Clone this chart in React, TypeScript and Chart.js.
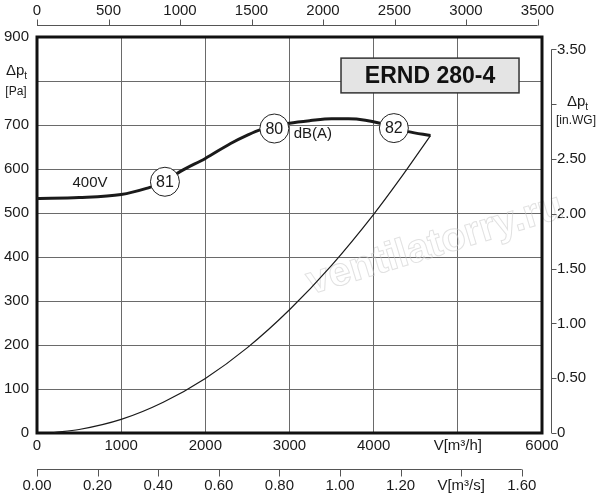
import React, { useEffect, useRef } from "react";
import { Chart, registerables } from "chart.js";

Chart.register(...registerables);

// ---- data ----
const flowTicks = [0, 1000, 2000, 3000, 4000, 5000, 6000];
const flowLabels = ["0", "1000", "2000", "3000", "4000", "V[m³/h]", "6000"];
const cfmTicks = [0, 500, 1000, 1500, 2000, 2500, 3000, 3500];
const cfmLabels = ["0", "500", "1000", "1500", "2000", "2500", "3000", "3500"];
const m3sTicks = [0, 0.2, 0.4, 0.6, 0.8, 1.0, 1.2, 1.4, 1.6];
const m3sLabels = ["0.00", "0.20", "0.40", "0.60", "0.80", "1.00", "1.20", "V[m³/s]", "1.60"];
const paTicks = [0, 100, 200, 300, 400, 500, 600, 700, 800, 900];
const paLabels = ["0", "100", "200", "300", "400", "500", "600", "700", "", "900"];
const inwgTicks = [0, 0.5, 1.0, 1.5, 2.0, 2.5, 3.0, 3.5];
const inwgLabels = ["0", "0.50", "1.00", "1.50", "2.00", "2.50", "", "3.50"];

const fanFlow = [0, 500, 1000, 1300, 1520, 1700, 2000, 2300, 2500, 2650, 2830, 3000, 3250, 3500, 3700, 3900, 4075, 4240, 4410, 4675];
const fanPressure = [533, 535, 542, 556, 571, 594, 624, 658, 677, 689, 697, 704, 710, 714, 714, 711, 704, 694, 685, 676];

const systemFlow = [200, 500, 1000, 1500, 2000, 2500, 3000, 3500, 4000, 4300, 4675];
const systemPressure = [1, 8, 31, 70, 124, 194, 280, 381, 497, 574, 676];

const dbFlow = [1520, 2820, 4240];
const dbPressure = [571, 692, 693];
const dbLabels = ["81", "80", "82"];

const title = "ERND 280-4";
const voltageLabel = "400V";
const dbUnit = "dB(A)";
const watermark = "ventilatorry.ru";

const FLOW_MAX = 6000;
const PA_MAX = 900;
const CFM_MAX = FLOW_MAX / 1.699011;
const M3S_MAX = FLOW_MAX / 3600;
const INWG_MAX = PA_MAX / 249.089;

const FONT = "'Liberation Sans', Arial, sans-serif";
const TXT = "#1a1a1a";
const GRID = "#6a6a6a";

function fixedTicks(values: number[]) {
  return (scale: any) => {
    scale.ticks = values.map((v) => ({ value: v }));
  };
}
function labelFor(values: number[], labels: string[]) {
  return (v: any) => {
    const i = values.findIndex((t) => Math.abs(t - Number(v)) < 1e-6);
    return i >= 0 ? labels[i] : "";
  };
}

const decorPlugin = {
  id: "decor",
  beforeDatasetsDraw(chart: any) {
    const { ctx, chartArea, scales } = chart;
    const { x, y } = scales;
    ctx.save();
    // watermark
    ctx.translate(435, 245);
    ctx.rotate((-17 * Math.PI) / 180);
    ctx.font = `bold 40px ${FONT}`;
    ctx.textAlign = "center";
    ctx.textBaseline = "middle";
    ctx.strokeStyle = "rgba(200,200,200,0.55)";
    ctx.lineWidth = 1;
    ctx.strokeText(watermark, 0, 0);
    ctx.restore();

    ctx.save();
    ctx.strokeStyle = "#111";
    ctx.lineWidth = 3;
    ctx.strokeRect(chartArea.left, chartArea.top, chartArea.right - chartArea.left, chartArea.bottom - chartArea.top);
    ctx.restore();

    // title box
    const bx1 = x.getPixelForValue(3612);
    const bx2 = x.getPixelForValue(5727);
    const by1 = y.getPixelForValue(852);
    const by2 = y.getPixelForValue(773);
    ctx.save();
    ctx.fillStyle = "#e4e4e4";
    ctx.fillRect(bx1, by1, bx2 - bx1, by2 - by1);
    ctx.strokeStyle = "#333";
    ctx.lineWidth = 1.5;
    ctx.strokeRect(bx1, by1, bx2 - bx1, by2 - by1);
    ctx.fillStyle = "#111";
    ctx.font = `bold 23px ${FONT}`;
    ctx.textAlign = "center";
    ctx.textBaseline = "middle";
    ctx.fillText(title, (bx1 + bx2) / 2, (by1 + by2) / 2 + 1);
    ctx.restore();
  },
  afterDraw(chart: any) {
    const { ctx, scales } = chart;
    const { x, y, x2, x3, y2 } = scales;
    ctx.save();
    ctx.strokeStyle = "#555";
    ctx.lineWidth = 1;
    // top cfm axis
    const ty = 25.5;
    ctx.beginPath();
    ctx.moveTo(x2.getPixelForValue(cfmTicks[0]), ty);
    ctx.lineTo(x2.getPixelForValue(cfmTicks[cfmTicks.length - 1]), ty);
    cfmTicks.forEach((v) => {
      const px = Math.round(x2.getPixelForValue(v)) + 0.5;
      ctx.moveTo(px, ty);
      ctx.lineTo(px, ty - 6);
    });
    ctx.stroke();
    // bottom m3/s axis
    const by = 469.5;
    ctx.beginPath();
    ctx.moveTo(x3.getPixelForValue(m3sTicks[0]), by);
    ctx.lineTo(x3.getPixelForValue(m3sTicks[m3sTicks.length - 1]), by);
    m3sTicks.forEach((v) => {
      const px = Math.round(x3.getPixelForValue(v)) + 0.5;
      ctx.moveTo(px, by);
      ctx.lineTo(px, by + 7);
    });
    ctx.stroke();
    // right in.WG axis
    const rx = 551.5;
    ctx.beginPath();
    ctx.moveTo(rx, y2.getPixelForValue(inwgTicks[inwgTicks.length - 1]));
    ctx.lineTo(rx, y2.getPixelForValue(0));
    inwgTicks.forEach((v) => {
      const py = Math.round(y2.getPixelForValue(v)) + 0.5;
      ctx.moveTo(rx, py);
      ctx.lineTo(rx + 5, py);
    });
    ctx.stroke();
    ctx.restore();

    // axis unit labels
    ctx.save();
    ctx.fillStyle = TXT;
    ctx.textBaseline = "alphabetic";
    ctx.textAlign = "left";
    const yl = y.getPixelForValue(800);
    ctx.font = `15px ${FONT}`;
    ctx.fillText("Δp", 6, yl - 6);
    const w1 = ctx.measureText("Δp").width;
    ctx.font = `10px ${FONT}`;
    ctx.fillText("t", 6 + w1, yl - 2);
    ctx.font = `12px ${FONT}`;
    ctx.textAlign = "center";
    ctx.fillText("[Pa]", 16, yl + 14);

    const yr = y2.getPixelForValue(3.0);
    ctx.textAlign = "left";
    ctx.font = `15px ${FONT}`;
    ctx.fillText("Δp", 567, yr + 2);
    const w2 = ctx.measureText("Δp").width;
    ctx.font = `10px ${FONT}`;
    ctx.fillText("t", 567 + w2, yr + 6);
    ctx.font = `12px ${FONT}`;
    ctx.textAlign = "center";
    ctx.fillText("[in.WG]", 576, yr + 20);

    // curve annotations
    ctx.font = `15px ${FONT}`;
    ctx.textAlign = "center";
    ctx.textBaseline = "middle";
    ctx.fillText(voltageLabel, x.getPixelForValue(630), y.getPixelForValue(568));
    ctx.textAlign = "left";
    ctx.fillText(dbUnit, x.getPixelForValue(3050), y.getPixelForValue(679));

    // dB circle numbers
    ctx.textAlign = "center";
    ctx.font = `16px ${FONT}`;
    dbFlow.forEach((f, i) => {
      ctx.fillText(dbLabels[i], x.getPixelForValue(f), y.getPixelForValue(dbPressure[i]) + 1);
    });
    ctx.restore();
  },
};

export default function App() {
  const ref = useRef<HTMLCanvasElement>(null);
  useEffect(() => {
    if (!ref.current) return;
    const tickFont = { family: FONT, size: 15 };
    const chart = new Chart(ref.current, {
      type: "line",
      data: {
        datasets: [
          {
            label: "dB",
            data: dbFlow.map((f, i) => ({ x: f, y: dbPressure[i] })),
            showLine: false,
            pointRadius: 14.5,
            pointHoverRadius: 14.5,
            pointBackgroundColor: "#ffffff",
            pointBorderColor: "#222",
            pointBorderWidth: 1,
          },
          {
            label: "fan",
            data: fanFlow.map((f, i) => ({ x: f, y: fanPressure[i] })),
            borderColor: "#1a1a1a",
            borderWidth: 3,
            pointRadius: 0,
            cubicInterpolationMode: "monotone",
            fill: false,
          },
          {
            label: "system",
            data: systemFlow.map((f, i) => ({ x: f, y: systemPressure[i] })),
            borderColor: "#1a1a1a",
            borderWidth: 1.2,
            pointRadius: 0,
            cubicInterpolationMode: "monotone",
            fill: false,
          },
        ],
      },
      options: {
        responsive: false,
        animation: false,
        events: [],
        layout: { padding: 0 },
        plugins: { legend: { display: false }, tooltip: { enabled: false } },
        scales: {
          x: {
            type: "linear",
            position: "bottom",
            min: 0,
            max: FLOW_MAX,
            afterBuildTicks: fixedTicks(flowTicks),
            afterFit: (s: any) => {
              s.height = 22;
            },
            grid: { color: GRID, lineWidth: 1, drawTicks: false },
            border: { display: false },
            ticks: { autoSkip: false, maxRotation: 0, padding: 4, color: TXT, font: tickFont, callback: labelFor(flowTicks, flowLabels) },
          },
          x3: {
            type: "linear",
            position: "bottom",
            min: 0,
            max: M3S_MAX,
            afterBuildTicks: fixedTicks(m3sTicks),
            afterFit: (s: any) => {
              s.height = 45;
            },
            grid: { display: false, drawTicks: false },
            border: { display: false },
            ticks: { autoSkip: false, maxRotation: 0, padding: 22, color: TXT, font: tickFont, callback: labelFor(m3sTicks, m3sLabels) },
          },
          x2: {
            type: "linear",
            position: "top",
            min: 0,
            max: CFM_MAX,
            afterBuildTicks: fixedTicks(cfmTicks),
            afterFit: (s: any) => {
              s.height = 37;
            },
            grid: { display: false, drawTicks: false },
            border: { display: false },
            ticks: { autoSkip: false, maxRotation: 0, padding: 17, color: TXT, font: tickFont, callback: labelFor(cfmTicks, cfmLabels) },
          },
          y: {
            type: "linear",
            position: "left",
            min: 0,
            max: PA_MAX,
            afterBuildTicks: fixedTicks(paTicks),
            afterFit: (s: any) => {
              s.width = 37;
            },
            grid: { color: GRID, lineWidth: 1, drawTicks: false },
            border: { display: false },
            ticks: { autoSkip: false, padding: 8, color: TXT, font: tickFont, callback: labelFor(paTicks, paLabels) },
          },
          y2: {
            type: "linear",
            position: "right",
            min: 0,
            max: INWG_MAX,
            afterBuildTicks: fixedTicks(inwgTicks),
            afterFit: (s: any) => {
              s.width = 58;
            },
            grid: { display: false, drawTicks: false },
            border: { display: false },
            ticks: { autoSkip: false, padding: 15, color: TXT, font: tickFont, callback: labelFor(inwgTicks, inwgLabels) },
          },
        },
      },
      plugins: [decorPlugin],
    } as any);
    return () => chart.destroy();
  }, []);
  return (
    <div style={{ position: "absolute", left: 0, top: 0, width: 600, height: 500, background: "#fff" }}>
      <canvas ref={ref} width={600} height={500} style={{ width: 600, height: 500, display: "block" }} />
    </div>
  );
}
